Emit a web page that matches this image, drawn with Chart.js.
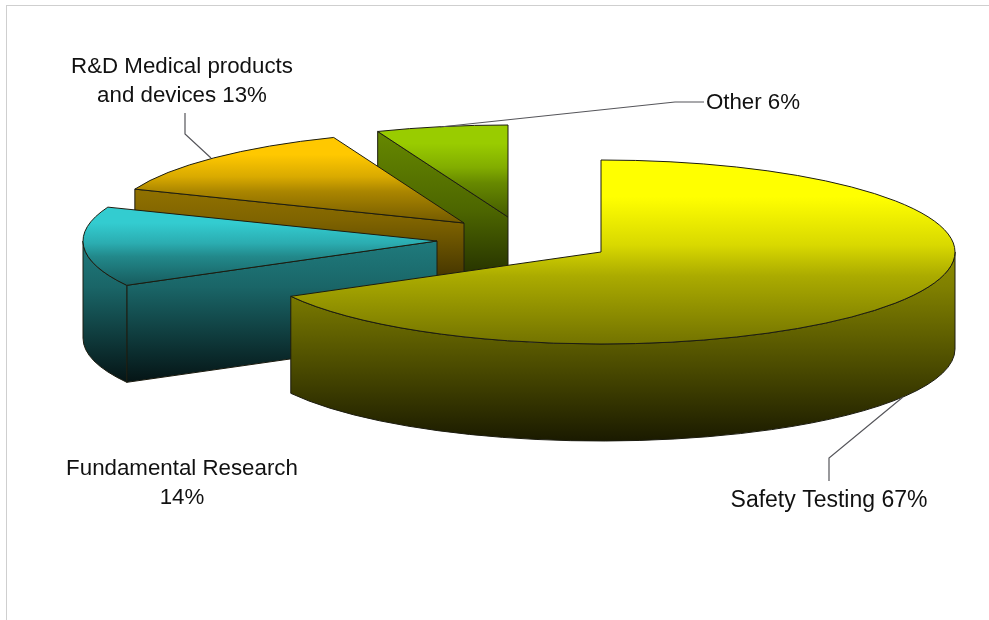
<!DOCTYPE html>
<html>
<head>
<meta charset="utf-8">
<style>
html,body{margin:0;padding:0;background:#fff;width:989px;height:620px;overflow:hidden}
#frame{position:absolute;left:6px;top:5px;width:983px;height:615px;border-top:1.5px solid #cfcfcf;border-left:1.5px solid #cfcfcf;box-sizing:border-box}
#c{position:absolute;left:0;top:0;filter:blur(0.5px)}
</style>
<script src="https://cdn.jsdelivr.net/npm/chart.js@4/dist/chart.umd.min.js"></script>
</head>
<body>
<canvas id="c" width="989" height="620"></canvas>
<div id="frame"></div>
<script>
const categories = ["Safety Testing", "Fundamental Research", "R&D Medical products and devices", "Other"];
const shareValues = [67, 14, 13, 6];
const baseColors = ["#ffff00", "#33ccd0", "#ffc800", "#99cc00"];
const labelLines = [
  ["Safety Testing 67%"],
  ["Fundamental Research", "14%"],
  ["R&D Medical products", "and devices 13%"],
  ["Other 6%"]
];

// style constants
const TILT = 92 / 354, DEPTH = 97, RADIUS = 354;
const EXPLODE = [[71, 7], [-93, -4], [-66, -22], [-22, -28]];
const LABEL_ANCHOR = [[829, 501], [182, 469], [182, 67], [753, 103]];
const LABEL_SIZE = [23, 22.3, 22.3, 22.3];
const LEADERS = [
  [[903, 397], [829, 458], [829, 481]],
  [],
  [[211, 158], [185, 134], [185, 113]],
  [[440, 127], [675, 102], [704, 102]]
];
const PAINT_ORDER = [3, 2, 1, 0];
const LINE = "#1c1c10";
const FACE_STOPS = [[0, 1], [0.2, 1], [0.46, 0.85], [0.63, 0.67], [1, 0.45]];
const WALL_STOPS = [[0, 0.68], [0.45, 0.5], [1, 0.1]];

function shade(hex, k) {
  const n = parseInt(hex.slice(1), 16);
  return `rgb(${((n >> 16) & 255) * k},${((n >> 8) & 255) * k},${(n & 255) * k})`;
}
function sliceAngles(i) {
  const total = shareValues.reduce((a, b) => a + b, 0);
  let s = -Math.PI / 2;
  for (let k = 0; k < i; k++) s += shareValues[k] / total * 2 * Math.PI;
  return [s, s + shareValues[i] / total * 2 * Math.PI];
}
function sinRange(s, e) {
  let lo = Math.min(0, Math.sin(s), Math.sin(e)), hi = Math.max(0, Math.sin(s), Math.sin(e));
  for (let k = -2; k < 4; k++) {
    const a = Math.PI / 2 + k * Math.PI;
    if (a > s && a < e) { lo = Math.min(lo, Math.sin(a)); hi = Math.max(hi, Math.sin(a)); }
  }
  return [lo, hi];
}
function addStops(g, stops, color) {
  stops.forEach(([at, k]) => g.addColorStop(at, shade(color, k)));
  return g;
}
function faceFill(c) {
  const ch = c.chart, i = c.dataIndex;
  if (!ch.chartArea) return baseColors[i];
  const cy = (ch.chartArea.top + ch.chartArea.bottom) / 2;
  const [s, e] = sliceAngles(i), [lo, hi] = sinRange(s, e);
  return addStops(ch.ctx.createLinearGradient(0, cy + RADIUS * lo, 0, cy + RADIUS * hi), FACE_STOPS, baseColors[i]);
}

const pie3d = {
  id: "pie3d",
  beforeDatasetsDraw(chart) {
    const ctx = chart.ctx, meta = chart.getDatasetMeta(0);
    PAINT_ORDER.forEach(i => {
      const arc = meta.data[i], R = arc.outerRadius;
      const cx = arc.x + EXPLODE[i][0], cy = arc.y + EXPLODE[i][1];
      const s = arc.startAngle, e = arc.endAngle;
      const pt = a => [cx + R * Math.cos(a), cy + R * TILT * Math.sin(a)];
      const [lo, hi] = sinRange(s, e);
      const wall = addStops(ctx.createLinearGradient(0, cy + R * TILT * lo, 0, cy + R * TILT * hi + DEPTH), WALL_STOPS, baseColors[i]);
      ctx.save();
      ctx.fillStyle = wall; ctx.strokeStyle = LINE; ctx.lineWidth = 1; ctx.lineJoin = "round";
      // flat cut faces turned toward the viewer
      [[s, Math.cos(s) < 0], [e, Math.cos(e) > 0]].forEach(([a, show]) => {
        if (!show) return;
        const p = pt(a);
        ctx.beginPath();
        ctx.moveTo(cx, cy); ctx.lineTo(p[0], p[1]);
        ctx.lineTo(p[0], p[1] + DEPTH); ctx.lineTo(cx, cy + DEPTH); ctx.closePath();
        ctx.fill(); ctx.stroke();
      });
      // rim, front half only
      const a0 = Math.max(s, 0), a1 = Math.min(e, Math.PI);
      if (a1 > a0) {
        ctx.beginPath();
        ctx.ellipse(cx, cy, R, R * TILT, 0, a0, a1);
        ctx.ellipse(cx, cy + DEPTH, R, R * TILT, 0, a1, a0, true);
        ctx.closePath();
        ctx.fill(); ctx.stroke();
      }
      // top face: the library's own arc, squashed into the tilted plane
      ctx.save();
      ctx.translate(cx, cy); ctx.scale(1, TILT); ctx.translate(-arc.x, -arc.y);
      arc.draw(ctx);
      ctx.restore();
      ctx.beginPath();
      ctx.moveTo(cx, cy);
      ctx.ellipse(cx, cy, R, R * TILT, 0, s, e);
      ctx.closePath();
      ctx.stroke();
      ctx.restore();
    });
    return false;
  },
  afterDraw(chart) {
    const ctx = chart.ctx;
    ctx.save();
    ctx.strokeStyle = "#55555a"; ctx.lineWidth = 1.2;
    LEADERS.forEach(poly => {
      if (!poly.length) return;
      ctx.beginPath();
      poly.forEach((p, k) => k ? ctx.lineTo(p[0], p[1]) : ctx.moveTo(p[0], p[1]));
      ctx.stroke();
    });
    ctx.fillStyle = "#111";
    ctx.textAlign = "center"; ctx.textBaseline = "middle";
    labelLines.forEach((lines, i) => lines.forEach((t, k) => {
      ctx.font = LABEL_SIZE[i] + 'px "Liberation Sans", Arial, sans-serif';
      ctx.fillText(t, LABEL_ANCHOR[i][0], LABEL_ANCHOR[i][1] + k * 29);
    }));
    ctx.restore();
  }
};

new Chart(document.getElementById("c"), {
  type: "pie",
  data: {
    labels: categories,
    datasets: [{ data: shareValues, backgroundColor: faceFill, borderWidth: 0 }]
  },
  options: {
    responsive: false,
    animation: false,
    radius: RADIUS,
    layout: { padding: { left: 71, bottom: 130 } },
    plugins: { legend: { display: false }, tooltip: { enabled: false } }
  },
  plugins: [pie3d]
});
</script>
</body>
</html>
